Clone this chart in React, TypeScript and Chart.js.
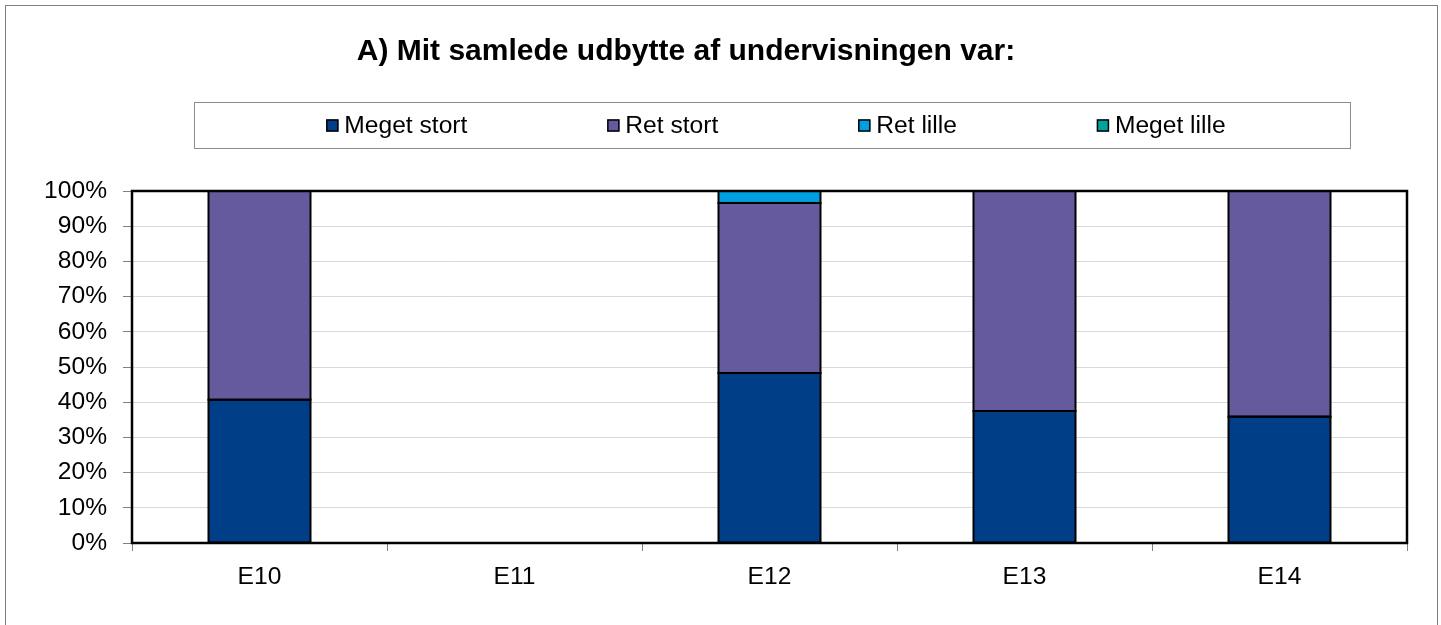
import React, { useEffect, useRef } from "react";
import { Chart, registerables } from "chart.js";

Chart.register(...registerables);

const categories = ["E10", "E11", "E12", "E13", "E14"];
const megetStort = [40.7, null, 48.3, 37.5, 35.9];
const retStort = [59.3, null, 48.3, 62.5, 64.1];
const retLille = [null, null, 3.4, null, null];
const megetLille = [null, null, null, null, null];

const seriesNames = ["Meget stort", "Ret stort", "Ret lille", "Meget lille"];
const seriesColors = ["#003F87", "#665A9F", "#00A0E0", "#00A3A0"];
const yTicks = [0, 10, 20, 30, 40, 50, 60, 70, 80, 90, 100];
const titleText = "A) Mit samlede udbytte af undervisningen var:";

const FONT = '"Liberation Sans", Arial, sans-serif';

const titlePlugin = {
  id: "customTitle",
  afterDraw(chart: any) {
    const ctx = chart.ctx;
    ctx.save();
    ctx.font = `bold 30px ${FONT}`;
    ctx.fillStyle = "#000";
    ctx.textAlign = "center";
    ctx.textBaseline = "alphabetic";
    ctx.fillText(titleText, 686, 60);
    ctx.restore();
  },
};

const legendPlugin = {
  id: "customLegend",
  afterDraw(chart: any) {
    const ctx = chart.ctx;
    ctx.save();
    const fx = 194.5, fy = 102.5, fw = 1156, fh = 46;
    ctx.strokeStyle = "#8c8c8c";
    ctx.lineWidth = 1;
    ctx.strokeRect(fx, fy, fw, fh);
    ctx.font = `24.6px ${FONT}`;
    const box = 12, gap = 6, itemGap = 140;
    const widths = seriesNames.map((n) => box + gap + ctx.measureText(n).width);
    const total = widths.reduce((a, b) => a + b, 0) + itemGap * (seriesNames.length - 1);
    let x = 776 - total / 2;
    const cy = fy + fh / 2;
    seriesNames.forEach((n, i) => {
      ctx.fillStyle = seriesColors[i];
      ctx.fillRect(x, cy - box / 2, box, box);
      ctx.strokeStyle = "#000";
      ctx.lineWidth = 1.5;
      ctx.strokeRect(x + 0.5, cy - box / 2 + 0.5, box - 1, box - 1);
      ctx.fillStyle = "#000";
      ctx.textAlign = "left";
      ctx.textBaseline = "middle";
      ctx.fillText(n, x + box + gap, cy + 1);
      x += widths[i] + itemGap;
    });
    ctx.restore();
  },
};

const barBorderPlugin = {
  id: "barBorders",
  afterDatasetsDraw(chart: any) {
    const ctx = chart.ctx;
    ctx.save();
    ctx.strokeStyle = "#000";
    ctx.lineWidth = 2;
    chart.data.datasets.forEach((_: any, di: number) => {
      const meta = chart.getDatasetMeta(di);
      meta.data.forEach((el: any) => {
        if (el.skip || el.y == null || isNaN(el.y)) return;
        const h = Math.abs(el.base - el.y);
        if (h < 0.5) return;
        const top = Math.min(el.y, el.base);
        ctx.strokeRect(el.x - el.width / 2, top, el.width, h);
      });
    });
    ctx.restore();
  },
};

const framePlugin = {
  id: "plotFrame",
  afterDatasetsDraw(chart: any) {
    const { ctx, chartArea } = chart;
    ctx.save();
    ctx.strokeStyle = "#000";
    ctx.lineWidth = 2.5;
    ctx.strokeRect(
      chartArea.left,
      chartArea.top,
      chartArea.right - chartArea.left,
      chartArea.bottom - chartArea.top
    );
    ctx.restore();
  },
};

export default function App() {
  const canvasRef = useRef<HTMLCanvasElement | null>(null);

  useEffect(() => {
    if (!canvasRef.current) return;
    const data = [megetStort, retStort, retLille, megetLille];
    const chart = new Chart(canvasRef.current, {
      type: "bar",
      data: {
        labels: categories,
        datasets: seriesNames.map((name, i) => ({
          label: name,
          data: data[i],
          backgroundColor: seriesColors[i],
          borderWidth: 0,
          barPercentage: 0.4,
          categoryPercentage: 1,
        })),
      },
      options: {
        responsive: false,
        maintainAspectRatio: false,
        animation: false,
        layout: { padding: { top: 191, right: 34, left: 0, bottom: 0 } },
        plugins: {
          legend: { display: false },
          title: { display: false },
          tooltip: { enabled: false },
        },
        scales: {
          x: {
            stacked: true,
            border: { display: false },
            grid: {
              drawOnChartArea: false,
              offset: true,
              tickLength: 8,
              tickColor: "#808080",
            },
            ticks: {
              color: "#000",
              font: { family: FONT, size: 24.6 },
              padding: 11,
              maxRotation: 0,
            },
            afterFit: (s: any) => {
              s.height = 82;
            },
          },
          y: {
            stacked: true,
            min: 0,
            max: 100,
            border: { display: false },
            grid: {
              color: "#d9d9d9",
              tickColor: "#808080",
              tickLength: 9,
            },
            afterBuildTicks: (s: any) => {
              s.ticks = yTicks.map((v) => ({ value: v }));
            },
            ticks: {
              color: "#000",
              font: { family: FONT, size: 24.6 },
              padding: 16,
              callback: (v: any) => `${v}%`,
            },
            afterFit: (s: any) => {
              s.width = 132;
            },
          },
        },
      },
      plugins: [titlePlugin, legendPlugin, barBorderPlugin, framePlugin],
    });
    return () => chart.destroy();
  }, []);

  return (
    <div style={{ position: "absolute", left: 0, top: 0, width: 1441, height: 625, overflow: "hidden", background: "#fff" }}>
      <div
        style={{
          position: "absolute",
          left: 5,
          top: 5,
          width: 1431,
          height: 660,
          border: "1px solid #7f7f7f",
        }}
      />
      <canvas ref={canvasRef} width={1441} height={625} style={{ position: "absolute", left: 0, top: 0 }} />
    </div>
  );
}
